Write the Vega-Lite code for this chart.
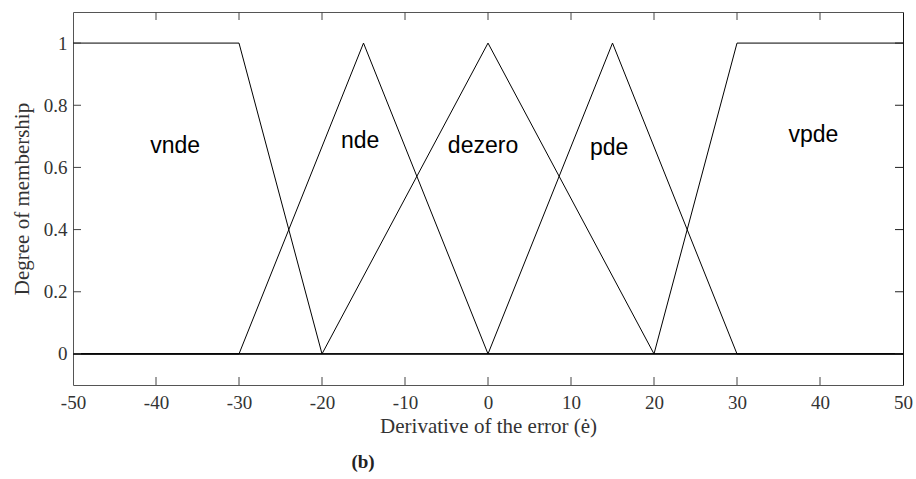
{
  "$schema": "https://vega.github.io/schema/vega-lite/v6.json",
  "width": 830,
  "height": 373,
  "autosize": "none",
  "padding": {"left": 73, "top": 12, "right": 13, "bottom": 94},
  "background": "white",
  "config": {
    "view": {"stroke": null},
    "axis": {
      "labelFont": "Liberation Serif",
      "titleFont": "Liberation Serif",
      "labelFontSize": 19,
      "titleFontSize": 21,
      "labelColor": "#333",
      "titleColor": "#333",
      "titleFontWeight": "normal",
      "domainColor": "#555",
      "domainWidth": 1,
      "ticks": false,
      "grid": false
    }
  },
  "title": {
    "text": "(b)",
    "orient": "bottom",
    "anchor": "middle",
    "dx": -125,
    "offset": 17,
    "font": "Liberation Serif",
    "fontSize": 19,
    "fontWeight": "bold",
    "color": "#222"
  },
  "datasets": {
    "mfs": [
      {"mf": "vnde", "x": -50, "y": 1, "k": 0},
      {"mf": "vnde", "x": -30, "y": 1, "k": 1},
      {"mf": "vnde", "x": -20, "y": 0, "k": 2},
      {"mf": "vnde", "x": 50, "y": 0, "k": 3},
      {"mf": "nde", "x": -50, "y": 0, "k": 0},
      {"mf": "nde", "x": -30, "y": 0, "k": 1},
      {"mf": "nde", "x": -15, "y": 1, "k": 2},
      {"mf": "nde", "x": 0, "y": 0, "k": 3},
      {"mf": "nde", "x": 50, "y": 0, "k": 4},
      {"mf": "dezero", "x": -50, "y": 0, "k": 0},
      {"mf": "dezero", "x": -20, "y": 0, "k": 1},
      {"mf": "dezero", "x": 0, "y": 1, "k": 2},
      {"mf": "dezero", "x": 20, "y": 0, "k": 3},
      {"mf": "dezero", "x": 50, "y": 0, "k": 4},
      {"mf": "pde", "x": -50, "y": 0, "k": 0},
      {"mf": "pde", "x": 0, "y": 0, "k": 1},
      {"mf": "pde", "x": 15, "y": 1, "k": 2},
      {"mf": "pde", "x": 30, "y": 0, "k": 3},
      {"mf": "pde", "x": 50, "y": 0, "k": 4},
      {"mf": "vpde", "x": -50, "y": 0, "k": 0},
      {"mf": "vpde", "x": 20, "y": 0, "k": 1},
      {"mf": "vpde", "x": 30, "y": 1, "k": 2},
      {"mf": "vpde", "x": 50, "y": 1, "k": 3}
    ],
    "names": [
      {"name": "vnde", "x": -37.7, "y": 0.646},
      {"name": "nde", "x": -15.4, "y": 0.662},
      {"name": "dezero", "x": -0.6, "y": 0.646},
      {"name": "pde", "x": 14.6, "y": 0.639},
      {"name": "vpde", "x": 39.2, "y": 0.681}
    ],
    "xticks": [
      {"v": -40}, {"v": -30}, {"v": -20}, {"v": -10}, {"v": 0},
      {"v": 10}, {"v": 20}, {"v": 30}, {"v": 40}
    ],
    "yticks": [
      {"v": 0}, {"v": 0.2}, {"v": 0.4}, {"v": 0.6}, {"v": 0.8}, {"v": 1}
    ]
  },
  "resolve": {"axis": {"x": "independent", "y": "independent"}},
  "layer": [
    {
      "data": {"name": "mfs"},
      "mark": {"type": "line", "color": "black", "strokeWidth": 1, "clip": true},
      "encoding": {
        "x": {
          "field": "x",
          "type": "quantitative",
          "scale": {"domain": [-50, 50], "nice": false, "zero": false},
          "axis": {
            "orient": "bottom",
            "values": [-50, -40, -30, -20, -10, 0, 10, 20, 30, 40, 50],
            "labelExpr": "'' + datum.value",
            "labelPadding": 8,
            "labelFlush": false,
            "title": "Derivative of the error (ė)",
            "titlePadding": 3
          }
        },
        "y": {
          "field": "y",
          "type": "quantitative",
          "scale": {"domain": [-0.1, 1.1], "nice": false, "zero": false},
          "axis": {
            "orient": "left",
            "values": [0, 0.2, 0.4, 0.6, 0.8, 1],
            "format": "~g",
            "labelPadding": 6,
            "title": "Degree of membership",
            "titlePadding": 11
          }
        },
        "detail": {"field": "mf"},
        "order": {"field": "k", "type": "quantitative"}
      }
    },
    {
      "data": {"name": "names"},
      "mark": {
        "type": "text",
        "font": "Liberation Sans",
        "fontSize": 23,
        "align": "center",
        "baseline": "alphabetic",
        "color": "black"
      },
      "encoding": {
        "x": {
          "field": "x",
          "type": "quantitative",
          "axis": {"orient": "top", "labels": false, "title": null}
        },
        "y": {
          "field": "y",
          "type": "quantitative",
          "axis": {"orient": "right", "labels": false, "title": null, "domainColor": "#111"}
        },
        "text": {"field": "name"}
      }
    },
    {
      "data": {"name": "xticks"},
      "mark": {"type": "rule", "color": "#444", "strokeWidth": 1, "y2Offset": -8},
      "encoding": {
        "x": {"field": "v", "type": "quantitative", "axis": null},
        "y": {"datum": -0.1, "type": "quantitative", "axis": null},
        "y2": {"datum": -0.1}
      }
    },
    {
      "data": {"name": "xticks"},
      "mark": {"type": "rule", "color": "#444", "strokeWidth": 1, "y2Offset": 8},
      "encoding": {
        "x": {"field": "v", "type": "quantitative", "axis": null},
        "y": {"datum": 1.1, "type": "quantitative", "axis": null},
        "y2": {"datum": 1.1}
      }
    },
    {
      "data": {"name": "yticks"},
      "mark": {"type": "rule", "color": "#444", "strokeWidth": 1, "x2Offset": 8},
      "encoding": {
        "y": {"field": "v", "type": "quantitative", "axis": null},
        "x": {"datum": -50, "type": "quantitative", "axis": null},
        "x2": {"datum": -50}
      }
    },
    {
      "data": {"name": "yticks"},
      "mark": {"type": "rule", "color": "#222", "strokeWidth": 1, "x2Offset": -8},
      "encoding": {
        "y": {"field": "v", "type": "quantitative", "axis": null},
        "x": {"datum": 50, "type": "quantitative", "axis": null},
        "x2": {"datum": 50}
      }
    }
  ]
}
